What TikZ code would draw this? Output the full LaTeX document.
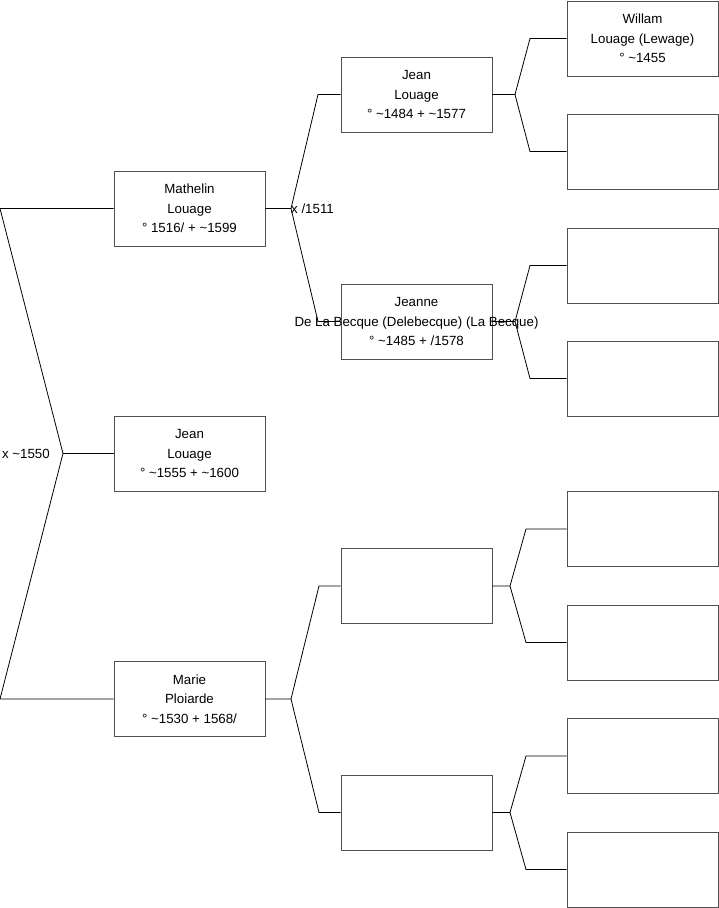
\documentclass[tikz,border=0pt]{standalone}
\usepackage{fontspec}
\setmainfont{Liberation Sans}
\usetikzlibrary{positioning}
\definecolor{boxgray}{RGB}{80,80,80}
\newcommand{\ca}{\textasciitilde}

\begin{document}
\begin{tikzpicture}[
    x=1pt, y=-1pt,
    box/.style={draw=boxgray, line width=0.9pt, minimum width=151pt, minimum height=75pt,
                inner sep=0pt, align=center, font=\fontsize{13.3}{19.5}\selectfont},
    link/.style={line width=0.8pt, color=black},
    wed/.style={inner sep=0pt, font=\fontsize{13.3}{15}\selectfont}
  ]
  \useasboundingbox (0,0) rectangle (719,908);
  % generation 1
  \node[box] (mat) at (189.5,208.5) {Mathelin\\Louage\\° 1516/ + \ca1599};
  \node[box] (jn1) at (189.5,453.5) {Jean\\Louage\\° \ca1555 + \ca1600};
  \node[box] (mar) at (189.5,699)   {Marie\\Ploiarde\\° \ca1530 + 1568/};
  % generation 2
  \node[box] (jn2) at (416.5,94.5)  {Jean\\Louage\\° \ca1484 + \ca1577};
  \node[box] (jne) at (416.5,321.5) {Jeanne\\\makebox[0pt]{De La Becque (Delebecque) (La Becque)}\\° \ca1485 + /1578};
  \node[box] (e21) at (416.5,586)   {};
  \node[box] (e22) at (416.5,812.5) {};
  % generation 3
  \node[box] (wil) at (642.5,38.5)  {Willam\\Louage (Lewage)\\° \ca1455};
  \node[box] (e31) at (642.5,151.5) {};
  \node[box] (e32) at (642.5,265.5) {};
  \node[box] (e33) at (642.5,378.5) {};
  \node[box] (e34) at (642.5,529)   {};
  \node[box] (e35) at (642.5,642.5) {};
  \node[box] (e36) at (642.5,756)   {};
  \node[box] (e37) at (642.5,869.5) {};
  % root fork
  \coordinate (r1) at (0,208.5);
  \coordinate (r2) at (0,699);
  \coordinate (v-root) at (63,453.5);
  \draw[link] (mat.west) -- (r1) -- (v-root) -- (r2) -- (mar.west);
  \draw[link] (v-root) -- (jn1.west);
  \node[wed, left=13pt of v-root] (wroot) {x \ca1550};
  % parent forks
  \foreach \p/\vx/\bx/\up/\dn in {mat/291/318/jn2/jne, mar/291/319/e21/e22,
      jn2/515/530/wil/e31, jne/515/530/e32/e33,
      e21/510/526/e34/e35, e22/510/526/e36/e37}{
    \coordinate (v-\p) at (\vx,0 |- \p.east);
    \draw[link] (\p.east) -- (v-\p) -- (\bx,0 |- \up.west) -- (\up.west);
    \draw[link] (v-\p) -- (\bx,0 |- \dn.west) -- (\dn.west);
  }
  \node[wed, right=0pt of v-mat] (wmat) {x /1511};
\end{tikzpicture}
\end{document}
